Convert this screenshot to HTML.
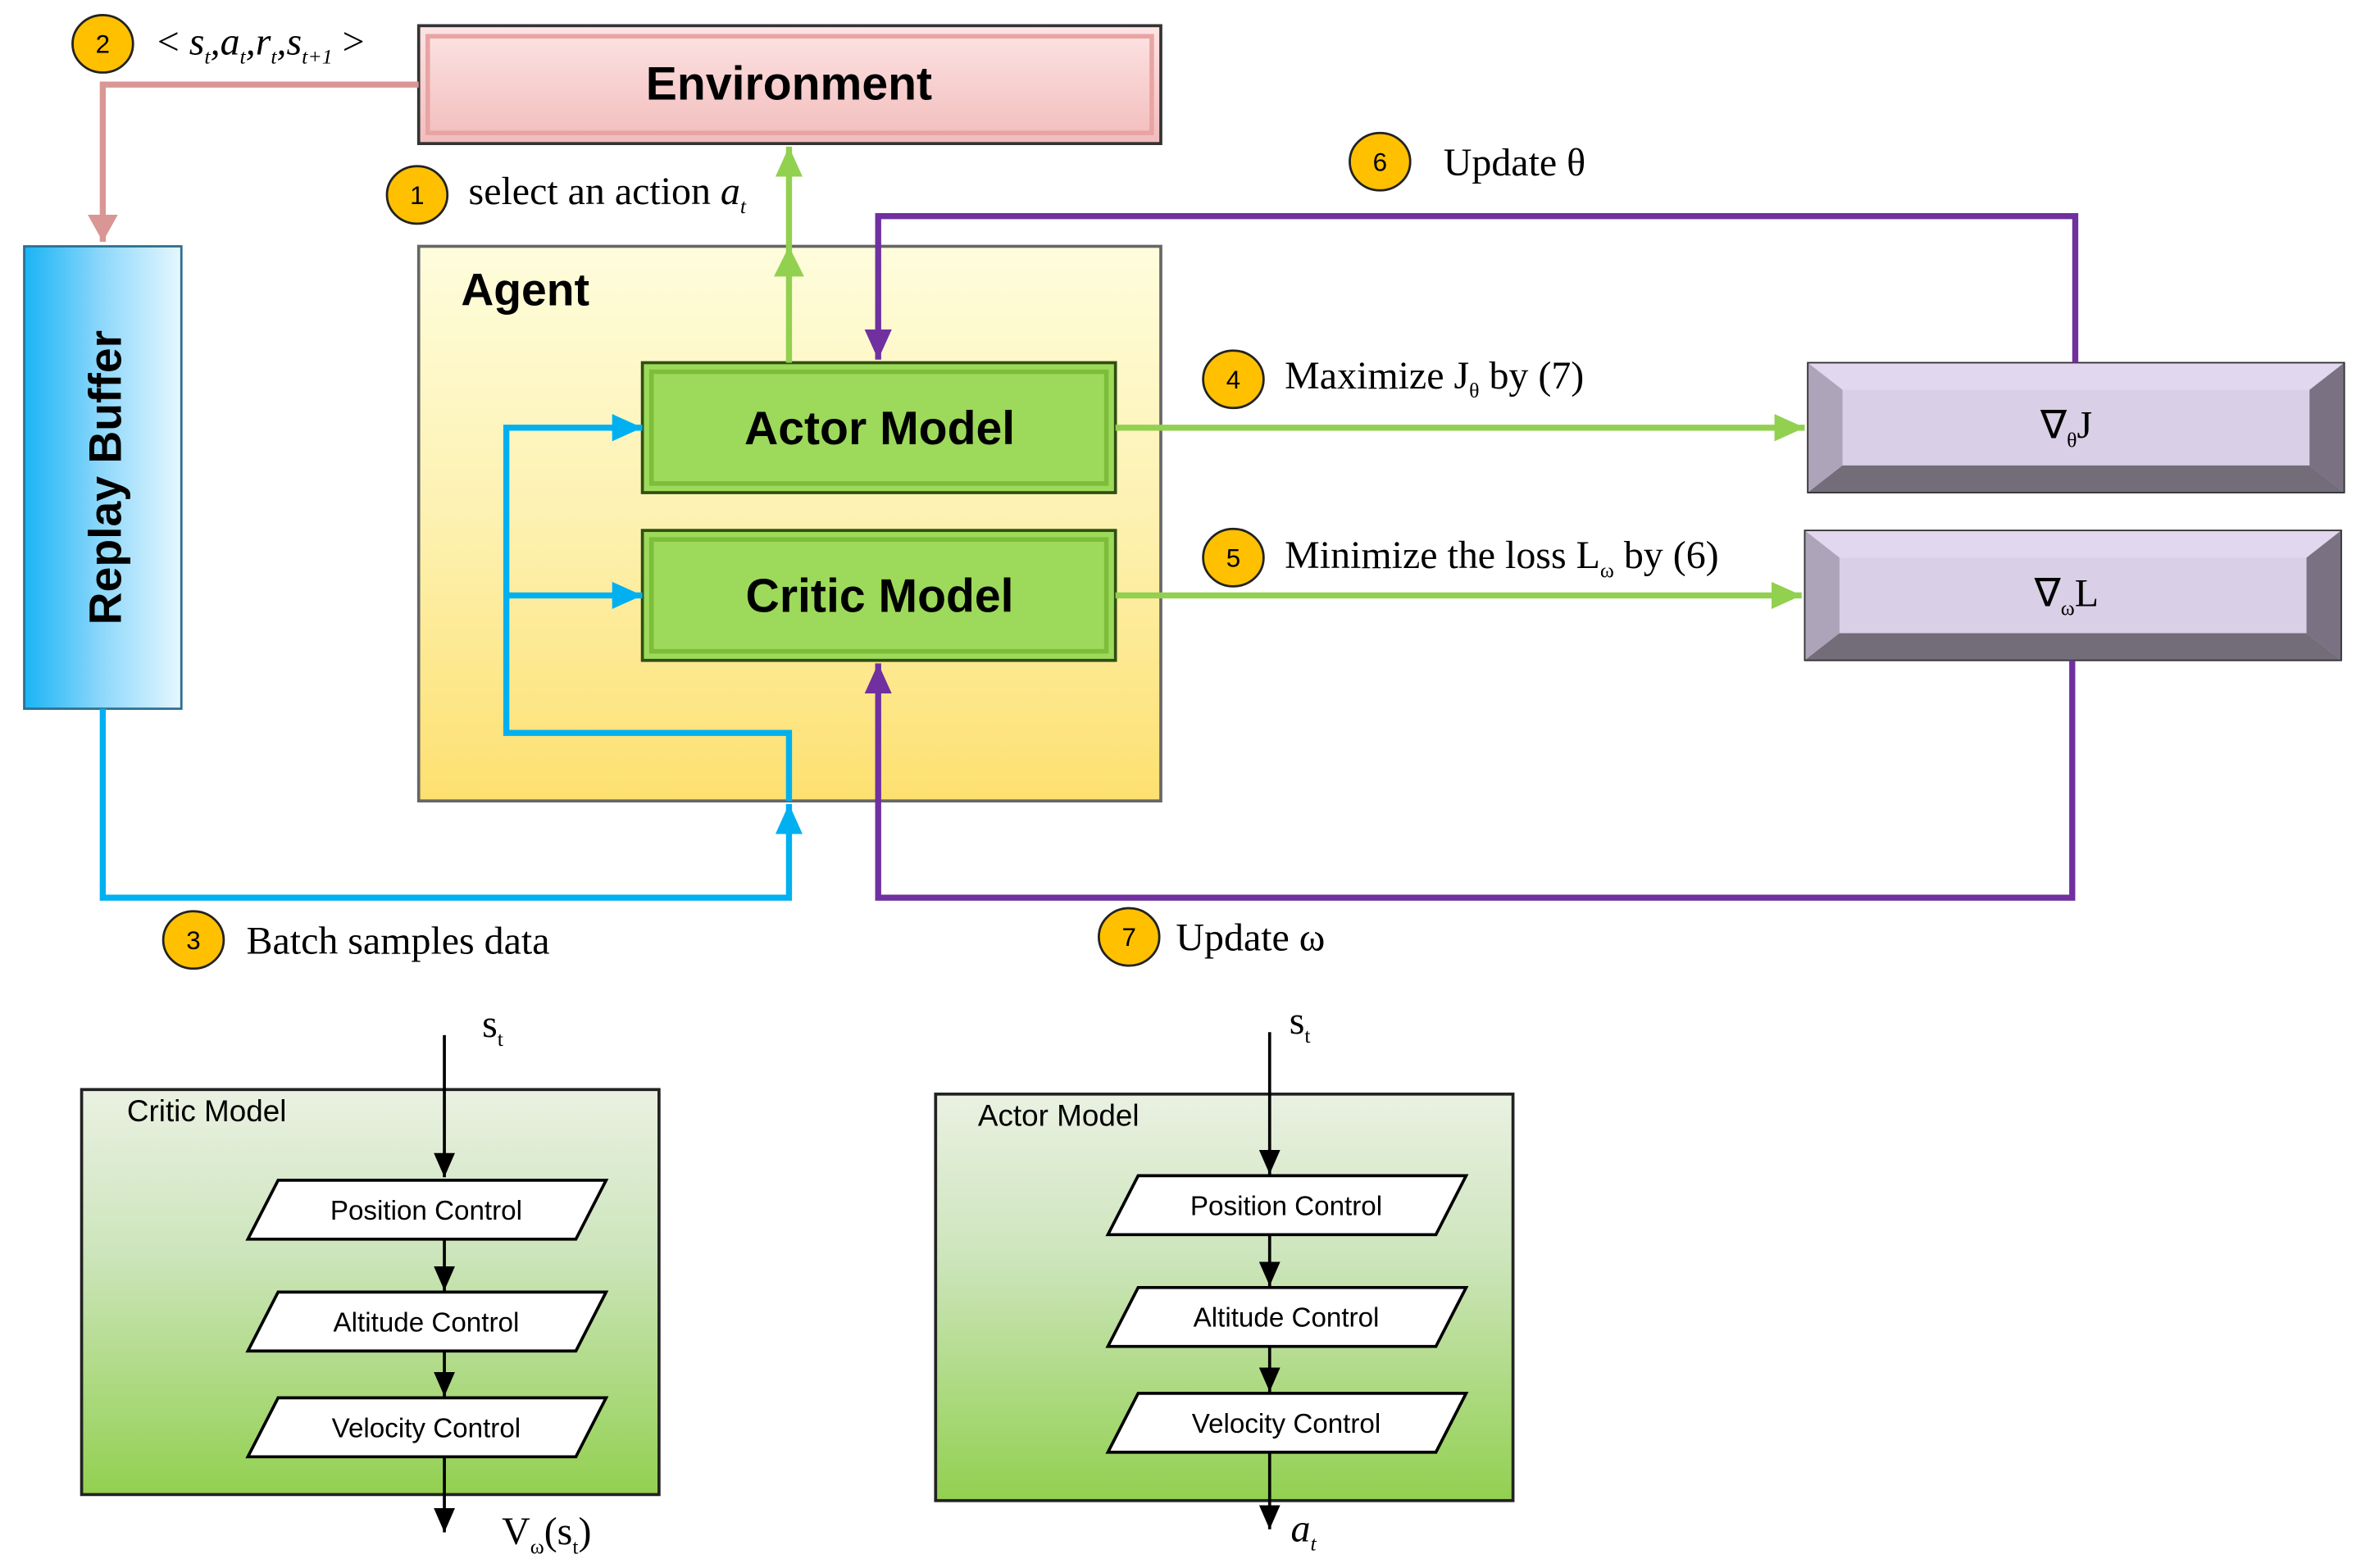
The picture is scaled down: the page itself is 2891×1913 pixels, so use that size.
<!DOCTYPE html>
<html><head><meta charset="utf-8"><style>html,body{margin:0;padding:0;background:#fff;}svg{display:block}</style></head>
<body>
<svg width="2891" height="1913" viewBox="0 0 1568 1037.6" preserveAspectRatio="none" xmlns="http://www.w3.org/2000/svg">
<defs>
<linearGradient id="env" x1="0" y1="0" x2="0" y2="1"><stop offset="0" stop-color="#fde4e4"/><stop offset="1" stop-color="#f2bcbc"/></linearGradient>
<linearGradient id="rb" x1="0" y1="0" x2="1" y2="0"><stop offset="0" stop-color="#1ab4f5"/><stop offset="0.5" stop-color="#8fd8fb"/><stop offset="1" stop-color="#e6f7fe"/></linearGradient>
<linearGradient id="ag" x1="0" y1="0" x2="0" y2="1"><stop offset="0" stop-color="#fefddc"/><stop offset="0.5" stop-color="#fdf1b0"/><stop offset="1" stop-color="#fde070"/></linearGradient>
<linearGradient id="pan" x1="0" y1="0" x2="0" y2="1"><stop offset="0" stop-color="#eaf1e2"/><stop offset="0.4" stop-color="#cde5bc"/><stop offset="1" stop-color="#92d050"/></linearGradient>
<marker id="pk" markerWidth="18" markerHeight="20" refX="18" refY="10" orient="auto" markerUnits="userSpaceOnUse"><path d="M0,0 L18,10 L0,20z" fill="#d99694"/></marker>
<marker id="gr" markerWidth="20" markerHeight="20" refX="20" refY="10" orient="auto" markerUnits="userSpaceOnUse"><path d="M0,1 L20,10 L0,19z" fill="#92d050"/></marker>
<marker id="bl" markerWidth="20" markerHeight="20" refX="20" refY="10" orient="auto" markerUnits="userSpaceOnUse"><path d="M0,1 L20,10 L0,19z" fill="#00b0f0"/></marker>
<marker id="pu" markerWidth="20" markerHeight="20" refX="20" refY="10" orient="auto" markerUnits="userSpaceOnUse"><path d="M0,1 L20,10 L0,19z" fill="#7030a0"/></marker>
<marker id="bk" markerWidth="16" markerHeight="14" refX="16" refY="7" orient="auto" markerUnits="userSpaceOnUse"><path d="M0,0 L16,7 L0,14z" fill="#000"/></marker>
</defs>

<rect x="277" y="17" width="491" height="78" fill="url(#env)" stroke="#333" stroke-width="2"/>
<rect x="283" y="24" width="479" height="64" fill="none" stroke="#e8a4a4" stroke-width="3"/>
<text x="522" y="66" font-family="Liberation Sans, sans-serif" font-weight="bold" font-size="31" text-anchor="middle">Environment</text>

<rect x="16" y="163" width="104" height="306" fill="url(#rb)" stroke="#2a6f90" stroke-width="1.5"/>
<text transform="translate(80,316) rotate(-90)" font-family="Liberation Sans, sans-serif" font-weight="bold" font-size="30" text-anchor="middle">Replay Buffer</text>

<rect x="277" y="163" width="491" height="367" fill="url(#ag)" stroke="#666" stroke-width="2"/>
<text x="305" y="202" font-family="Liberation Sans, sans-serif" font-weight="bold" font-size="30">Agent</text>

<rect x="425" y="240" width="313" height="86" fill="#9dd95a" stroke="#2f4f10" stroke-width="2"/>
<rect x="431" y="246" width="301" height="74" fill="none" stroke="#7cbd3a" stroke-width="3"/>
<text x="582" y="294" font-family="Liberation Sans, sans-serif" font-weight="bold" font-size="31" text-anchor="middle">Actor Model</text>
<rect x="425" y="351" width="313" height="86" fill="#9dd95a" stroke="#2f4f10" stroke-width="2"/>
<rect x="431" y="357" width="301" height="74" fill="none" stroke="#7cbd3a" stroke-width="3"/>
<text x="582" y="405" font-family="Liberation Sans, sans-serif" font-weight="bold" font-size="31" text-anchor="middle">Critic Model</text>

<g>
<rect x="1196" y="240" width="355" height="86" fill="#d9cfe6"/>
<polygon points="1196,240 1551,240 1528,258 1219,258" fill="#e1d7ee"/>
<polygon points="1196,240 1219,258 1219,308 1196,326" fill="#aea4ba"/>
<polygon points="1551,240 1528,258 1528,308 1551,326" fill="#7a7282"/>
<polygon points="1196,326 1219,308 1528,308 1551,326" fill="#736d7a"/>
<rect x="1196" y="240" width="355" height="86" fill="none" stroke="#333" stroke-width="1"/>
<text x="1350" y="290" font-family="Liberation Serif, serif" font-size="26">∇<tspan font-size="14" dy="6">θ</tspan><tspan dy="-6">J</tspan></text>
<rect x="1194" y="351" width="355" height="86" fill="#d9cfe6"/>
<polygon points="1194,351 1549,351 1526,369 1217,369" fill="#e1d7ee"/>
<polygon points="1194,351 1217,369 1217,419 1194,437" fill="#aea4ba"/>
<polygon points="1549,351 1526,369 1526,419 1549,437" fill="#7a7282"/>
<polygon points="1194,437 1217,419 1526,419 1549,437" fill="#736d7a"/>
<rect x="1194" y="351" width="355" height="86" fill="none" stroke="#333" stroke-width="1"/>
<text x="1346" y="401" font-family="Liberation Serif, serif" font-size="26">∇<tspan font-size="14" dy="6">ω</tspan><tspan dy="-6">L</tspan></text>
</g>

<polyline points="277,56 68,56 68,160" fill="none" stroke="#d99694" stroke-width="4" marker-end="url(#pk)"/>
<line x1="522" y1="240" x2="522" y2="97" stroke="#92d050" stroke-width="4" marker-end="url(#gr)"/>
<path d="M512,183 L522,163 L532,183z" fill="#92d050"/>
<polyline points="1373,240 1373,143 581,143 581,238" fill="none" stroke="#7030a0" stroke-width="4" marker-end="url(#pu)"/>
<polyline points="1371,437 1371,594 581,594 581,439" fill="none" stroke="#7030a0" stroke-width="4" marker-end="url(#pu)"/>
<line x1="738" y1="283" x2="1194" y2="283" stroke="#92d050" stroke-width="4" marker-end="url(#gr)"/>
<line x1="738" y1="394" x2="1192" y2="394" stroke="#92d050" stroke-width="4" marker-end="url(#gr)"/>
<polyline points="68,469 68,594 522,594 522,532" fill="none" stroke="#00b0f0" stroke-width="4" marker-end="url(#bl)"/>
<polyline points="522,530 522,485 335,485 335,283 425,283" fill="none" stroke="#00b0f0" stroke-width="4" marker-end="url(#bl)"/>
<line x1="335" y1="394" x2="425" y2="394" stroke="#00b0f0" stroke-width="4" marker-end="url(#bl)"/>

<g stroke="#222" stroke-width="1.5" fill="#ffc000">
<ellipse cx="68" cy="29" rx="20" ry="19"/><ellipse cx="276" cy="129" rx="20" ry="19"/><ellipse cx="128" cy="622" rx="20" ry="19"/>
<ellipse cx="816" cy="251" rx="20" ry="19"/><ellipse cx="816" cy="369" rx="20" ry="19"/><ellipse cx="913" cy="107" rx="20" ry="19"/><ellipse cx="747" cy="620" rx="20" ry="19"/>
</g>
<g font-family="Liberation Sans, sans-serif" font-size="17" text-anchor="middle">
<text x="68" y="35">2</text><text x="276" y="135">1</text><text x="128" y="628">3</text><text x="816" y="257">4</text><text x="816" y="375">5</text><text x="913" y="113">6</text><text x="747" y="626">7</text>
</g>
<g font-family="Liberation Serif, serif" font-size="26">
<text x="104" y="36">&lt; <tspan font-style="italic">s<tspan font-size="14" dy="6">t</tspan><tspan dy="-6">,a</tspan><tspan font-size="14" dy="6">t</tspan><tspan dy="-6">,r</tspan><tspan font-size="14" dy="6">t</tspan><tspan dy="-6">,s</tspan><tspan font-size="14" dy="6">t+1</tspan></tspan><tspan dy="-6"> &gt;</tspan></text>
<text x="310" y="135">select an action <tspan font-style="italic">a<tspan font-size="14" dy="6">t</tspan></tspan></text>
<text x="955" y="116">Update θ</text>
<text x="850" y="257">Maximize  J<tspan font-size="14" dy="6">θ</tspan><tspan dy="-6"> by (7)</tspan></text>
<text x="850" y="376">Minimize  the loss L<tspan font-size="14" dy="6">ω</tspan><tspan dy="-6"> by (6)</tspan></text>
<text x="163" y="631">Batch  samples data</text>
<text x="778" y="629">Update ω</text>
</g>

<rect x="54" y="721" width="382" height="268" fill="url(#pan)" stroke="#222" stroke-width="2"/>
<text x="84" y="742" font-family="Liberation Sans, sans-serif" font-size="20">Critic Model</text>
<rect x="619" y="724" width="382" height="269" fill="url(#pan)" stroke="#222" stroke-width="2"/>
<text x="647" y="745" font-family="Liberation Sans, sans-serif" font-size="20">Actor Model</text>

<g stroke="#000" stroke-width="2" fill="none">
<line x1="294" y1="685" x2="294" y2="779" marker-end="url(#bk)"/>
<line x1="294" y1="820" x2="294" y2="854" marker-end="url(#bk)"/>
<line x1="294" y1="894" x2="294" y2="924" marker-end="url(#bk)"/>
<line x1="294" y1="964" x2="294" y2="1014" marker-end="url(#bk)"/>
<line x1="840" y1="683" x2="840" y2="777" marker-end="url(#bk)"/>
<line x1="840" y1="817" x2="840" y2="851" marker-end="url(#bk)"/>
<line x1="840" y1="891" x2="840" y2="921" marker-end="url(#bk)"/>
<line x1="840" y1="961" x2="840" y2="1012" marker-end="url(#bk)"/>
</g>
<g fill="#fff" stroke="#000" stroke-width="2">
<polygon points="184,781 401,781 381,820 164,820"/>
<polygon points="184,855 401,855 381,894 164,894"/>
<polygon points="184,925 401,925 381,964 164,964"/>
<polygon points="753,778 970,778 950,817 733,817"/>
<polygon points="753,852 970,852 950,891 733,891"/>
<polygon points="753,922 970,922 950,961 733,961"/>
</g>
<g font-family="Liberation Sans, sans-serif" font-size="18" text-anchor="middle">
<text x="282" y="807">Position Control</text><text x="282" y="881">Altitude Control</text><text x="282" y="951">Velocity Control</text>
<text x="851" y="804">Position Control</text><text x="851" y="878">Altitude Control</text><text x="851" y="948">Velocity Control</text>
</g>
<g font-family="Liberation Serif, serif" font-size="26">
<text x="319" y="686">s<tspan font-size="14" dy="6">t</tspan></text>
<text x="853" y="684">s<tspan font-size="14" dy="6">t</tspan></text>
<text x="332" y="1022">V<tspan font-size="14" dy="6">ω</tspan><tspan dy="-6">(s</tspan><tspan font-size="14" dy="6">t</tspan><tspan dy="-6">)</tspan></text>
<text x="854" y="1020" font-style="italic">a<tspan font-size="14" dy="6">t</tspan></text>
</g>
</svg>
</body></html>
